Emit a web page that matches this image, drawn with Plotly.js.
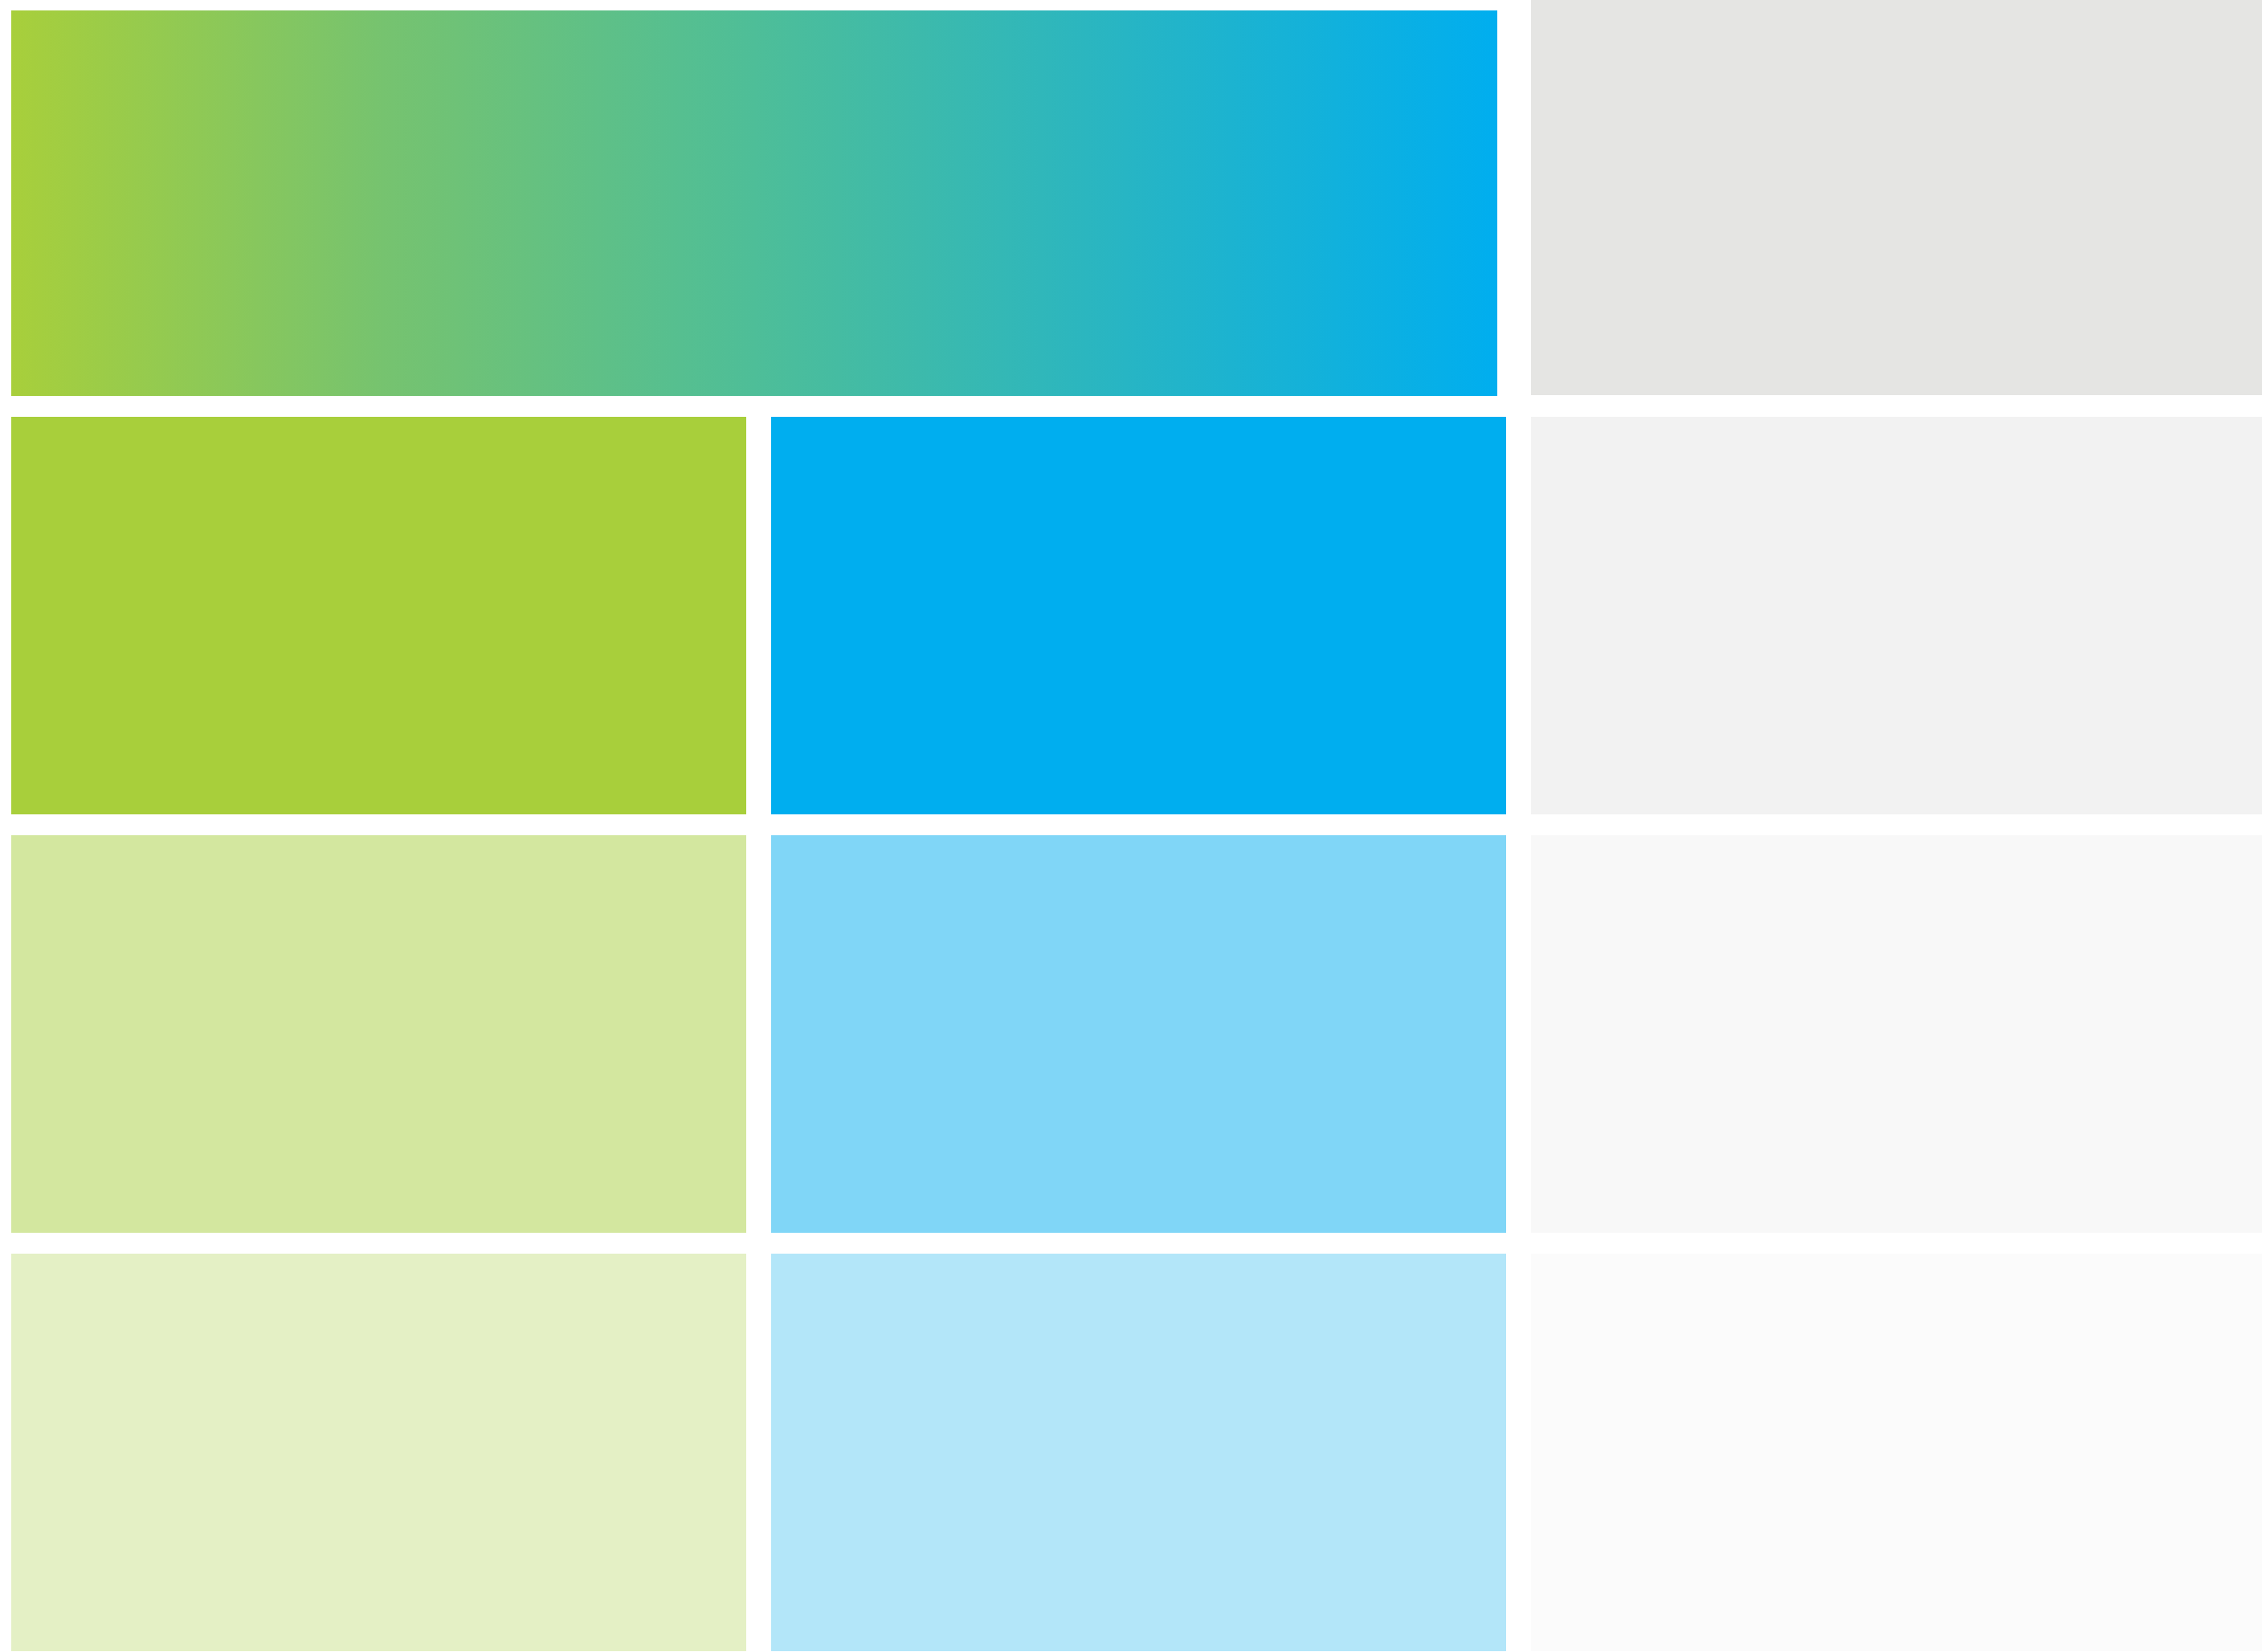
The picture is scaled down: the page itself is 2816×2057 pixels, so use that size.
<!DOCTYPE html>
<html>
<head>
<meta charset="utf-8">
<script src="https://cdn.plot.ly/plotly-3.0.1.min.js"></script>
<style>html,body{margin:0;padding:0;background:#fff;}#chart{width:2816px;height:2057px;}</style>
</head>
<body>
<div id="chart"></div>
<script>
// ---- data ----
const palettes = ['Green', 'Blue', 'Gray'];
const tints = ['100%', '50%', '30%'];
const greenColors = ['#A8CF3B', '#D3E79F', '#E4F0C5'];
const blueColors = ['#00AEEF', '#80D6F7', '#B3E6F9'];
const grayColors = ['#F2F2F2', '#F8F8F8', '#FBFBFB'];
const headerGradient = ['#A8CF3B', '#76C36F', '#4EBE98', '#27B5C4', '#00AEEF'];
const headerGray = '#E5E5E3';

// ---- layout constants (pixels) ----
const W = 2816, H = 2057;
const colLeft0 = 14, colPitch = 946, colWidth = 915;
const rowTop0 = 519, rowPitch = 521, rowHeight = 495;
const gradTop = 13, gradBottom = 493, gradLeft = 14, gradRight = 1864;
const grayHeadTop = 0, grayHeadBottom = 492;

const swatchColors = [greenColors, blueColors, grayColors];
const traces = [];

// tint swatches as bars
palettes.forEach((p, ci) => {
  const xs = [], bases = [], hs = [], cols = [], names = [];
  tints.forEach((t, ri) => {
    xs.push(colLeft0 + ci * colPitch + colWidth / 2);
    bases.push(rowTop0 + ri * rowPitch);
    hs.push(rowHeight);
    cols.push(swatchColors[ci][ri]);
    names.push(p + ' ' + t);
  });
  traces.push({
    type: 'bar', x: xs, y: hs, base: bases, width: colWidth,
    marker: {color: cols, line: {width: 0}}, text: names, textposition: 'none',
    hoverinfo: 'text', showlegend: false
  });
});

// gray header swatch
traces.push({
  type: 'bar', x: [colLeft0 + 2 * colPitch + colWidth / 2], y: [grayHeadBottom - grayHeadTop],
  base: [grayHeadTop], width: colWidth,
  marker: {color: headerGray, line: {width: 0}}, hoverinfo: 'skip', showlegend: false
});

// gradient header
const n = headerGradient.length;
traces.push({
  type: 'scatter', mode: 'lines',
  x: [gradLeft, gradRight, gradRight, gradLeft, gradLeft],
  y: [gradTop, gradTop, gradBottom, gradBottom, gradTop],
  fill: 'toself',
  fillgradient: {type: 'horizontal', colorscale: headerGradient.map((c, i) => [i / (n - 1), c])},
  line: {width: 0, color: 'rgba(0,0,0,0)'},
  hoverinfo: 'skip', showlegend: false
});

const layout = {
  width: W, height: H,
  margin: {l: 0, r: 0, t: 0, b: 0, pad: 0},
  paper_bgcolor: '#ffffff', plot_bgcolor: '#ffffff',
  xaxis: {range: [0, W], visible: false, fixedrange: true},
  yaxis: {range: [H, 0], visible: false, fixedrange: true},
  barmode: 'overlay', bargap: 0, showlegend: false
};

Plotly.newPlot('chart', traces, layout, {displayModeBar: false, staticPlot: true});
</script>
</body>
</html>
